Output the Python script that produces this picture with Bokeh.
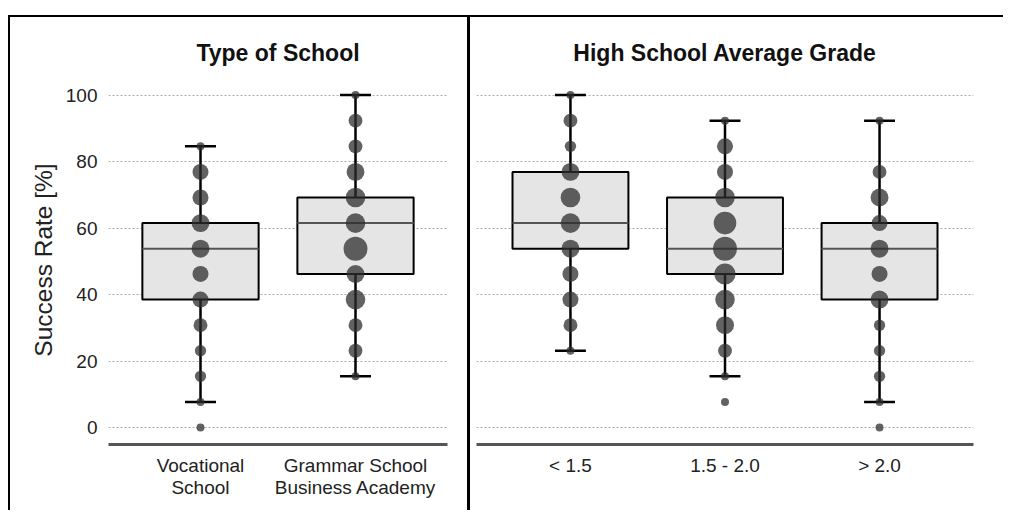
from bokeh.plotting import figure
from bokeh.models import ColumnDataSource, Range1d, FactorRange, Spacer
from bokeh.layouts import row, column
from bokeh.transform import dodge
from bokeh.embed import file_html
from bokeh.resources import INLINE

# ---- data ----
LEVELS = [0, 7.7, 15.4, 23.1, 30.8, 38.5, 46.2, 53.8, 61.5, 69.2, 76.9, 84.6, 92.3, 100]
Y_TICKS = [0, 20, 40, 60, 80, 100]

school_title = "Type of School"
school_cats = ["Vocational\nSchool", "Grammar School\nBusiness Academy"]
school_lower = [7.7, 15.4]
school_q1 = [38.5, 46.2]
school_median = [53.8, 61.5]
school_q3 = [61.5, 69.2]
school_upper = [84.6, 100]
school_counts = [
    [1, 1, 2, 2, 3, 4, 4, 5, 5, 4, 4, 1, 0, 0],
    [0, 0, 1, 3, 3, 6, 5, 9, 6, 6, 5, 3, 3, 1],
]

grade_title = "High School Average Grade"
grade_cats = ["< 1.5", "1.5 - 2.0", "> 2.0"]
grade_lower = [23.1, 15.4, 7.7]
grade_q1 = [53.8, 46.2, 38.5]
grade_median = [61.5, 53.8, 53.8]
grade_q3 = [76.9, 69.2, 61.5]
grade_upper = [100, 92.3, 92.3]
grade_counts = [
    [0, 0, 0, 1, 3, 4, 4, 5, 6, 6, 5, 2, 3, 1],
    [0, 1, 1, 3, 5, 6, 7, 9, 8, 6, 4, 4, 1, 0],
    [1, 1, 2, 2, 2, 5, 4, 5, 4, 5, 3, 0, 1, 0],
]

FONT = "Liberation Sans"


def panel(title, cats, lower, q1, med, q3, upper, counts, width, mbl, mbr, pad, show_y):
    p = figure(
        x_range=FactorRange(*cats, range_padding=pad),
        y_range=Range1d(-5.1, 105.9),
        width=width, height=495,
        output_backend="svg", toolbar_location=None,
        min_border_left=mbl, min_border_right=mbr,
        min_border_top=58, min_border_bottom=68,
        title=title,
    )
    p.title.text_font = FONT
    p.title.text_font_size = "23px"
    p.title.text_font_style = "bold"
    p.title.text_color = "#111111"
    p.title.align = "center"
    p.title.standoff = 19
    p.outline_line_color = None
    p.background_fill_color = "white"
    p.border_fill_color = "white"

    p.xgrid.visible = False
    p.ygrid.grid_line_color = "#aaaaaa"
    p.ygrid.grid_line_dash = "2 2"
    p.ygrid.grid_line_width = 1

    p.yaxis.ticker = Y_TICKS
    p.yaxis.axis_line_color = None
    p.yaxis.major_tick_line_color = None
    p.yaxis.minor_tick_line_color = None
    p.yaxis.major_label_standoff = 5
    p.yaxis.major_label_text_font = FONT
    p.yaxis.major_label_text_font_size = "19px"
    p.yaxis.major_label_text_color = "#222222"
    if show_y:
        p.yaxis.axis_label = "Success Rate [%]"
        p.yaxis.axis_label_text_font = FONT
        p.yaxis.axis_label_text_font_size = "24.5px"
        p.yaxis.axis_label_text_font_style = "normal"
        p.yaxis.axis_label_text_color = "#222222"
        p.yaxis.axis_label_standoff = 6
    else:
        p.yaxis.visible = False

    p.xaxis.axis_line_color = "#555555"
    p.xaxis.axis_line_width = 3
    p.xaxis.major_tick_line_color = None
    p.xaxis.minor_tick_line_color = None
    p.xaxis.major_label_standoff = 4
    p.xaxis.major_label_text_font = FONT
    p.xaxis.major_label_text_font_size = "19px"
    p.xaxis.major_label_text_line_height = 1.05
    p.xaxis.major_label_text_color = "#222222"

    box = ColumnDataSource(dict(cat=cats, lower=lower, q1=q1, med=med, q3=q3, upper=upper))
    p.segment(x0="cat", y0="lower", x1="cat", y1="q1", source=box, line_color="black", line_width=2.5)
    p.segment(x0="cat", y0="q3", x1="cat", y1="upper", source=box, line_color="black", line_width=2.5)
    for col in ("lower", "upper"):
        p.segment(x0=dodge("cat", -0.1, range=p.x_range), y0=col,
                  x1=dodge("cat", 0.1, range=p.x_range), y1=col,
                  source=box, line_color="black", line_width=2.5)
    p.vbar(x="cat", width=0.75, bottom="q1", top="q3", source=box,
           fill_color="#e5e5e5", line_color="black", line_width=2)
    p.segment(x0=dodge("cat", -0.375, range=p.x_range), y0="med",
              x1=dodge("cat", 0.375, range=p.x_range), y1="med",
              source=box, line_color="#555555", line_width=2)

    dx, dy, ds = [], [], []
    for c, cnt in zip(cats, counts):
        for lv, n in zip(LEVELS, cnt):
            if n > 0:
                dx.append(c)
                dy.append(lv)
                ds.append(8 * n ** 0.5)
    dots = ColumnDataSource(dict(cat=dx, level=dy, size=ds))
    p.scatter(x="cat", y="level", size="size", source=dots,
              fill_color="#2e2e2e", fill_alpha=0.75, line_color=None)
    return p


p1 = panel(school_title, school_cats, school_lower, school_q1, school_median, school_q3,
           school_upper, school_counts, 459, 98, 22, 0.0935, True)
p2 = panel(grade_title, grade_cats, grade_lower, grade_q1, grade_median, grade_q3,
           grade_upper, grade_counts, 536, 6, 33, 0.072, False)

p1.styles = {"border-top": "2px solid black", "border-left": "2px solid black"}
p2.styles = {"border-top": "2px solid black", "border-left": "3px solid black"}

layout = column(Spacer(height=15), row(Spacer(width=8), p1, p2))
open("out.html", "w").write(file_html(layout, INLINE))
